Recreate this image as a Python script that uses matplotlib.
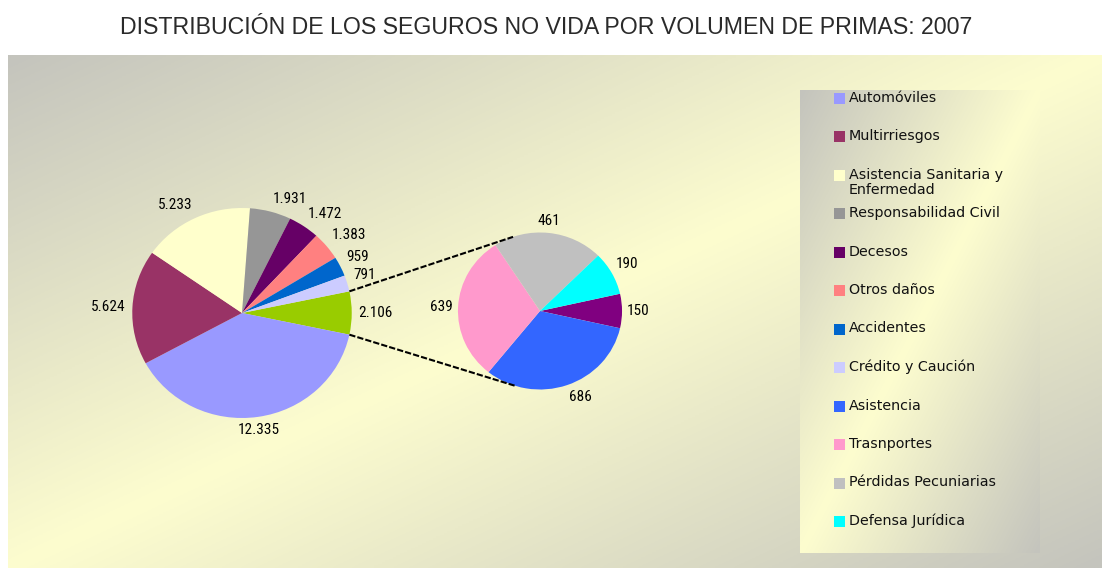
import numpy as np
import matplotlib
matplotlib.use("Agg")
import matplotlib.pyplot as plt
from matplotlib.colors import LinearSegmentedColormap
from matplotlib.patches import Rectangle
from matplotlib import font_manager as fm

# ---------------- data ----------------
title = "DISTRIBUCIÓN DE LOS SEGUROS NO VIDA POR VOLUMEN DE PRIMAS: 2007"

main_labels = ["Otros", "Automóviles", "Multirriesgos",
               "Asistencia Sanitaria y\nEnfermedad", "Responsabilidad Civil",
               "Decesos", "Otros daños", "Accidentes", "Crédito y Caución"]
main_values = [2106, 12335, 5624, 5233, 1931, 1472, 1383, 959, 791]
main_colors = ["#99CC00", "#9999FF", "#993366", "#FFFFCC", "#969696",
               "#660066", "#FF8080", "#0066CC", "#CCCCFF"]

sec_labels = ["Resto", "Asistencia", "Trasnportes", "Pérdidas Pecuniarias",
              "Defensa Jurídica"]
sec_values = [150, 686, 639, 461, 190]
sec_colors = ["#800080", "#3366FF", "#FF99CC", "#C0C0C0", "#00FFFF"]

legend_labels = main_labels[1:] + sec_labels[1:]
legend_colors = main_colors[1:] + sec_colors[1:]

# ---------------- fonts ----------------
names = {f.name for f in fm.fontManager.ttflist}
narrow = next((n for n in ["Liberation Sans Narrow", "Roboto Condensed",
                           "Open Sans Condensed", "Arial Narrow"] if n in names),
              "Liberation Sans")

W, H = 1102, 568
fig = plt.figure(figsize=(W / 100, H / 100), dpi=100)
fig.patch.set_facecolor("white")

# ---------------- background (pixel coords, y down) ----------------
bg = fig.add_axes([0, 0, 1, 1])
bg.set_xlim(0, W)
bg.set_ylim(H, 0)
bg.axis("off")

cmap = LinearSegmentedColormap.from_list(
    "g", ["#c4c4bd", "#fdfdcf", "#c4c4bd"])


def gradient(x0, x1, y0, y1, n=300):
    u = np.linspace(0, 1, n)
    v = np.linspace(0, 1, n)
    s = (u[None, :] + v[:, None]) / 2
    bg.imshow(s, cmap=cmap, extent=[x0, x1, y1, y0], origin="upper",
              aspect="auto", interpolation="bilinear", zorder=0)


gradient(8, W, 55, H)
gradient(800, 1040, 90, 553)

# legend entries
leg_x, leg_y0, leg_dy = 839, 98, 38.5
for i, (lab, col) in enumerate(zip(legend_labels, legend_colors)):
    y = leg_y0 + i * leg_dy
    bg.add_patch(Rectangle((leg_x - 5.5, y - 5.5), 11, 11, facecolor=col,
                           edgecolor="none", zorder=2))
    bg.text(leg_x + 10, y - 7.5, lab, ha="left", va="top", fontsize=10.3,
            family="DejaVu Sans", color="#111111", linespacing=1.1, zorder=3)

# ---------------- pies ----------------
SX = 1.045  # horizontal stretch of the original rendering
ax = fig.add_axes([0, 0, 1, 1])
ax.patch.set_alpha(0)

main_c = (242 / SX, H - 313)
main_r = 105
sec_c = (540 / SX, H - 311)
sec_r = 78.5

main_start = 180.0 * main_values[0] / sum(main_values)
sec_start = 180.0 * sec_values[0] / sum(sec_values)

w_main, _ = ax.pie(main_values, colors=main_colors, startangle=main_start,
                   counterclock=False, center=main_c, radius=main_r,
                   wedgeprops=dict(linewidth=0))
w_sec, _ = ax.pie(sec_values, colors=sec_colors, startangle=sec_start,
                  counterclock=False, center=sec_c, radius=sec_r,
                  wedgeprops=dict(linewidth=0))

ax.set_xlim(0, W / SX)
ax.set_ylim(0, H)
ax.set_aspect("auto")
ax.axis("off")


def fmt(v):
    return f"{v:,}".replace(",", ".")


def place_labels(wedges, values, c, r):
    for w, v in zip(wedges, values):
        th = np.deg2rad((w.theta1 + w.theta2) / 2)
        cx, sy = np.cos(th), np.sin(th)
        x = c[0] + 1.06 * r * cx
        y = c[1] + 1.06 * r * sy
        ha = "left" if cx > 0.2 else ("right" if cx < -0.2 else "center")
        va = "bottom" if sy > 0.2 else ("top" if sy < -0.2 else "center")
        ax.text(x, y, fmt(v), ha=ha, va=va, fontsize=11, family=narrow,
                color="black", zorder=5)


place_labels(w_main, main_values, main_c, main_r)
place_labels(w_sec, sec_values, sec_c, sec_r)

# connector lines: from edges of the split slice, tangent to secondary pie
g = w_main[0]
for ang, sign in ((max(g.theta1, g.theta2), 1), (min(g.theta1, g.theta2), -1)):
    p = np.array([main_c[0] + main_r * np.cos(np.deg2rad(ang)),
                  main_c[1] + main_r * np.sin(np.deg2rad(ang))])
    d = p - np.array(sec_c)
    dist = np.hypot(*d)
    base = np.arctan2(d[1], d[0])
    phi = base - sign * np.arccos(sec_r / dist)
    q = np.array(sec_c) + sec_r * np.array([np.cos(phi), np.sin(phi)])
    ax.plot([p[0], q[0]], [p[1], q[1]], color="black", lw=1.5,
            linestyle=(0, (3, 1)), zorder=4)

# ---------------- title ----------------
t = fig.text(546 / W, 1 - 28 / H, title, ha="center", va="center",
             fontsize=14, family="Liberation Sans", color="#2a2a2a")
fig.canvas.draw()
bw = t.get_window_extent().width
t.set_fontsize(14 * 858 / bw)

fig.savefig("out.png", dpi=100)
